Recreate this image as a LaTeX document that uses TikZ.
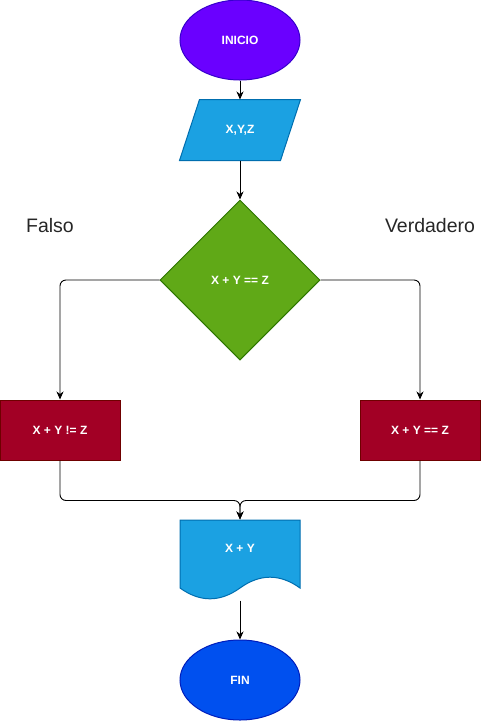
\documentclass[tikz,border=0pt]{standalone}
\usepackage{fontspec}
\setmainfont{Liberation Sans}
\usetikzlibrary{shapes.geometric,arrows.meta}
\definecolor{morado}{HTML}{6A00FF}
\definecolor{moradob}{HTML}{3700CC}
\definecolor{azul}{HTML}{1BA1E2}
\definecolor{azulb}{HTML}{006EAF}
\definecolor{verde}{HTML}{60A917}
\definecolor{verdeb}{HTML}{2D7600}
\definecolor{rojo}{HTML}{A20025}
\definecolor{rojob}{HTML}{6F0000}
\definecolor{cobalto}{HTML}{0050EF}
\definecolor{cobaltob}{HTML}{001DBC}
\begin{document}
\begin{tikzpicture}[x=1pt,y=-1pt,line width=1pt,
		texto/.style={text=white,font=\fontsize{12}{14}\selectfont\bfseries,inner sep=0pt},
		terminal/.style={ellipse,texto,minimum width=120pt,minimum height=80pt},
		caja/.style={rectangle,texto,minimum width=120pt,minimum height=60pt},
		flecha/.style={-{Stealth[length=8pt,width=7pt,inset=2.5pt]},line width=0.9pt,rounded corners=6pt}]
				\useasboundingbox (0,0) rectangle (481,721);
				\node[terminal,draw=moradob,fill=morado] (inicio) at (240,40) {INICIO};
				\node[caja] (datos) at (240,130) {};
				\draw[draw=azulb,fill=azul] ([xshift=20pt]datos.north west)--(datos.north east)--([xshift=-20pt]datos.south east)--(datos.south west)--cycle;
				\node[texto] (datostxt) at (datos.center) {X,Y,Z};
				\node[diamond,texto,draw=verdeb,fill=verde,minimum width=160pt,minimum height=160pt] (dec) at (240,280) {X + Y == Z};
				\node[font=\fontsize{19.5}{22}\selectfont,text=black!85] (falso) at (50,226) {Falso};
				\node[font=\fontsize{19.5}{22}\selectfont,text=black!85] (verd) at (430,226) {Verdadero};
				\node[caja,draw=rojob,fill=rojo] (no) at (60,430) {X + Y != Z};
				\node[caja,draw=rojob,fill=rojo] (si) at (420,430) {X + Y == Z};
				\node[minimum width=120pt,minimum height=80pt,inner sep=0pt] (docu) at (240,560) {};
				\draw[draw=azulb,fill=azul] (180,520)--(300,520)--(300,588) .. controls (280,573.6) and (260,573.6) .. (240,588) .. controls (220,602.4) and (200,602.4) .. (180,588)--cycle;
				\node[texto] (docutxt) at (240,548) {X + Y};
				\node[terminal,draw=cobaltob,fill=cobalto] (fin) at (240,680) {FIN};
				\draw[flecha] (inicio.south)--(datos.north);
				\draw[flecha] (datos.south)--(dec.north);
				\draw[flecha] (dec.west)-|(no.north);
				\draw[flecha] (dec.east)-|(si.north);
				\draw[flecha] (no.south)--++(0,40)-|(docu.north);
				\draw[flecha] (si.south)--++(0,40)-|(docu.north);
				\draw[flecha] (docu.south)--(fin.north);
			\end{tikzpicture}
\end{document}
